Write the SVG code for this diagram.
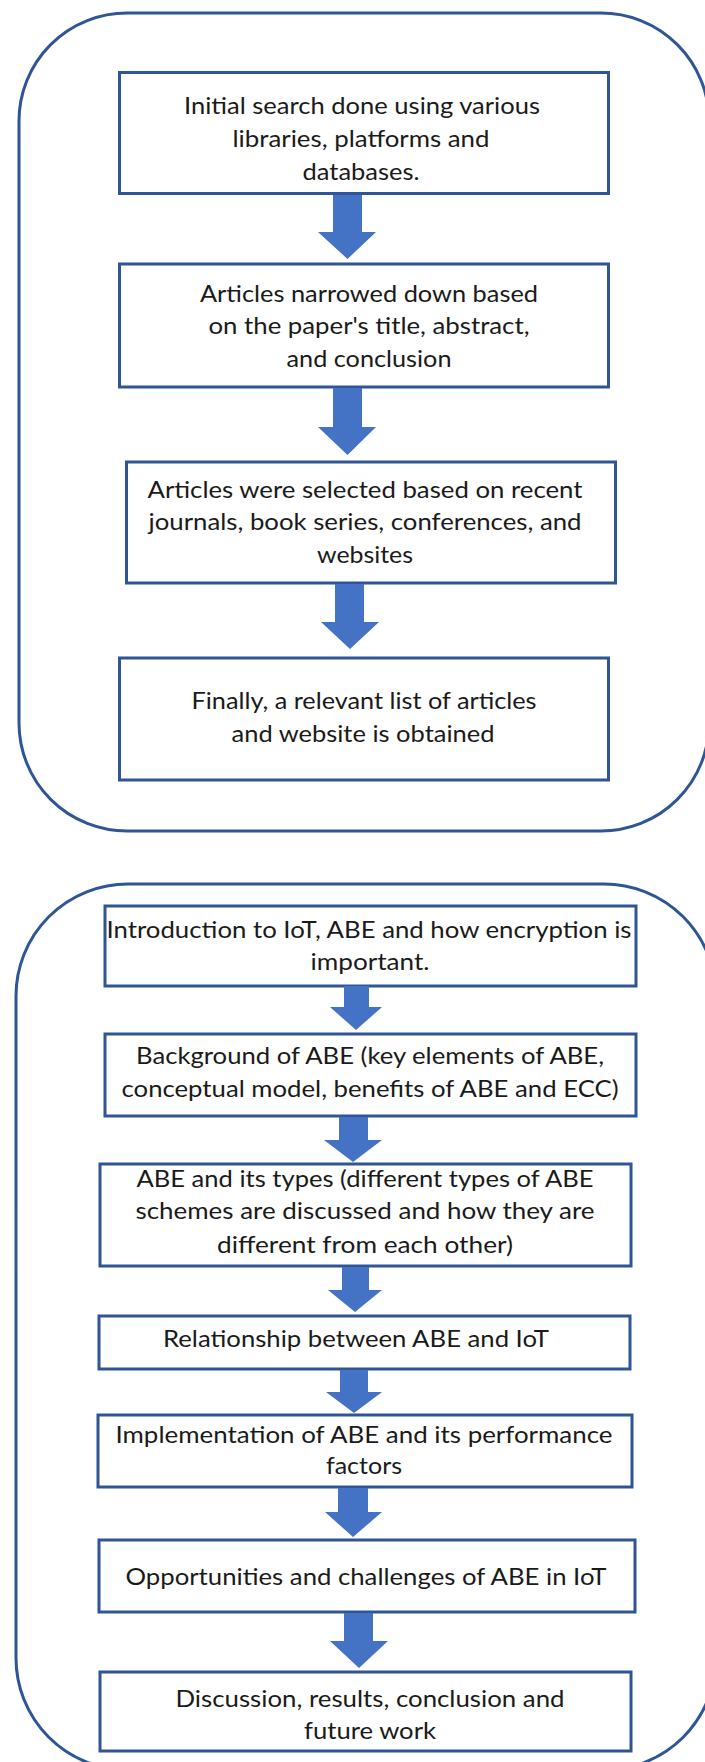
<svg xmlns="http://www.w3.org/2000/svg" width="705" height="1762" viewBox="0 0 705 1762">
  <style>
    .frame { fill: none; stroke: #2F5597; stroke-width: 3; }
    .box { fill: #FFFFFF; stroke: #2F5597; stroke-width: 3; }
    .arrow { fill: #4472C4; stroke: none; }
    .label { font-family: Lato, "Liberation Sans", sans-serif; font-size: 24px; fill: #1A1A1A; text-anchor: middle; }
  </style>
  <rect width="705" height="1762" fill="#FFFFFF"/>

  <!-- rounded frames around the two flows -->
  <g id="frame-search">
    <rect class="frame" x="19" y="13" width="690" height="818" rx="108" ry="108"/>
  </g>
  <g id="frame-outline">
    <rect class="frame" x="16" y="884" width="700" height="886" rx="112" ry="112"/>
  </g>

  <!-- search process -->
  <g id="n1">
    <rect class="box" x="119.5" y="72.5" width="489" height="121"/>
    <text class="label"><tspan x="362" y="114" textLength="356" lengthAdjust="spacingAndGlyphs">Initial search done using various</tspan><tspan x="361" y="147" textLength="257" lengthAdjust="spacingAndGlyphs">libraries, platforms and</tspan><tspan x="361" y="180" textLength="117" lengthAdjust="spacingAndGlyphs">databases.</tspan></text>
  </g>
  <g id="n2">
    <rect class="box" x="119.5" y="264" width="489" height="123"/>
    <text class="label"><tspan x="369" y="302" textLength="338" lengthAdjust="spacingAndGlyphs">Articles narrowed down based</tspan><tspan x="369" y="334" textLength="321" lengthAdjust="spacingAndGlyphs">on the paper's title, abstract,</tspan><tspan x="369" y="367" textLength="165" lengthAdjust="spacingAndGlyphs">and conclusion</tspan></text>
  </g>
  <g id="n3">
    <rect class="box" x="126.5" y="462" width="489" height="121"/>
    <text class="label"><tspan x="365" y="498" textLength="435" lengthAdjust="spacingAndGlyphs">Articles were selected based on  recent</tspan><tspan x="365" y="530" textLength="433" lengthAdjust="spacingAndGlyphs">journals, book series, conferences, and</tspan><tspan x="365" y="563" textLength="96" lengthAdjust="spacingAndGlyphs">websites</tspan></text>
  </g>
  <g id="n4">
    <rect class="box" x="119.5" y="658" width="489" height="122"/>
    <text class="label"><tspan x="364" y="709" textLength="345" lengthAdjust="spacingAndGlyphs">Finally, a relevant list of articles</tspan><tspan x="363" y="742" textLength="263" lengthAdjust="spacingAndGlyphs">and website is obtained</tspan></text>
  </g>

  <!-- paper outline -->
  <g id="s1">
    <rect class="box" x="105" y="906" width="531" height="80"/>
    <text class="label"><tspan x="369" y="938" textLength="525" lengthAdjust="spacingAndGlyphs">Introduction to IoT, ABE and how encryption is</tspan><tspan x="370" y="970" textLength="119" lengthAdjust="spacingAndGlyphs">important.</tspan></text>
  </g>
  <g id="s2">
    <rect class="box" x="105" y="1034" width="531" height="82"/>
    <text class="label"><tspan x="370" y="1064" textLength="468" lengthAdjust="spacingAndGlyphs">Background of ABE (key elements of ABE,</tspan><tspan x="370" y="1097" textLength="497" lengthAdjust="spacingAndGlyphs">conceptual model, benefits of ABE and ECC)</tspan></text>
  </g>
  <g id="s3">
    <rect class="box" x="100" y="1164" width="531" height="102"/>
    <text class="label"><tspan x="365" y="1187" textLength="457" lengthAdjust="spacingAndGlyphs">ABE and its types (different types of ABE</tspan><tspan x="365" y="1219" textLength="459" lengthAdjust="spacingAndGlyphs">schemes are discussed and how they are</tspan><tspan x="365" y="1253" textLength="296" lengthAdjust="spacingAndGlyphs">different from each other)</tspan></text>
  </g>
  <g id="s4">
    <rect class="box" x="99" y="1316" width="531" height="53"/>
    <text class="label"><tspan x="356" y="1347" textLength="386" lengthAdjust="spacingAndGlyphs">Relationship between ABE and IoT</tspan></text>
  </g>
  <g id="s5">
    <rect class="box" x="98" y="1415" width="534" height="72"/>
    <text class="label"><tspan x="364" y="1443" textLength="497" lengthAdjust="spacingAndGlyphs">Implementation of ABE and its performance</tspan><tspan x="364" y="1474" textLength="76" lengthAdjust="spacingAndGlyphs">factors</tspan></text>
  </g>
  <g id="s6">
    <rect class="box" x="99" y="1540" width="536" height="72"/>
    <text class="label"><tspan x="366" y="1585" textLength="481" lengthAdjust="spacingAndGlyphs">Opportunities and challenges of ABE in IoT</tspan></text>
  </g>
  <g id="s7">
    <rect class="box" x="100" y="1672" width="531" height="79"/>
    <text class="label"><tspan x="370" y="1707" textLength="389" lengthAdjust="spacingAndGlyphs">Discussion, results, conclusion and</tspan><tspan x="370" y="1739" textLength="132" lengthAdjust="spacingAndGlyphs">future work</tspan></text>
  </g>

  <!-- block arrows between steps -->
  <g id="connectors">
    <polygon class="arrow" points="333,195 362,195 362,232 376,232 347.5,259 318,232 333,232"/>
    <polygon class="arrow" points="333,388 362,388 362,427 376,427 347.5,455 318,427 333,427"/>
    <polygon class="arrow" points="335,584 364,584 364,622 379,622 350,649 321,622 335,622"/>
    <polygon class="arrow" points="344,986 369,986 369,1007 382,1007 356,1030 330,1007 344,1007"/>
    <polygon class="arrow" points="339,1117 368,1117 368,1140 382,1140 353,1162 324,1140 339,1140"/>
    <polygon class="arrow" points="342,1267 369,1267 369,1290 382,1290 355,1312 328,1290 342,1290"/>
    <polygon class="arrow" points="340,1370 368,1370 368,1392 382,1392 354,1413 326,1392 340,1392"/>
    <polygon class="arrow" points="338,1488 368,1488 368,1512 382,1512 353,1537 325,1512 338,1512"/>
    <polygon class="arrow" points="344,1613 373,1613 373,1641 388,1641 359,1668 330,1641 344,1641"/>
  </g>
</svg>
